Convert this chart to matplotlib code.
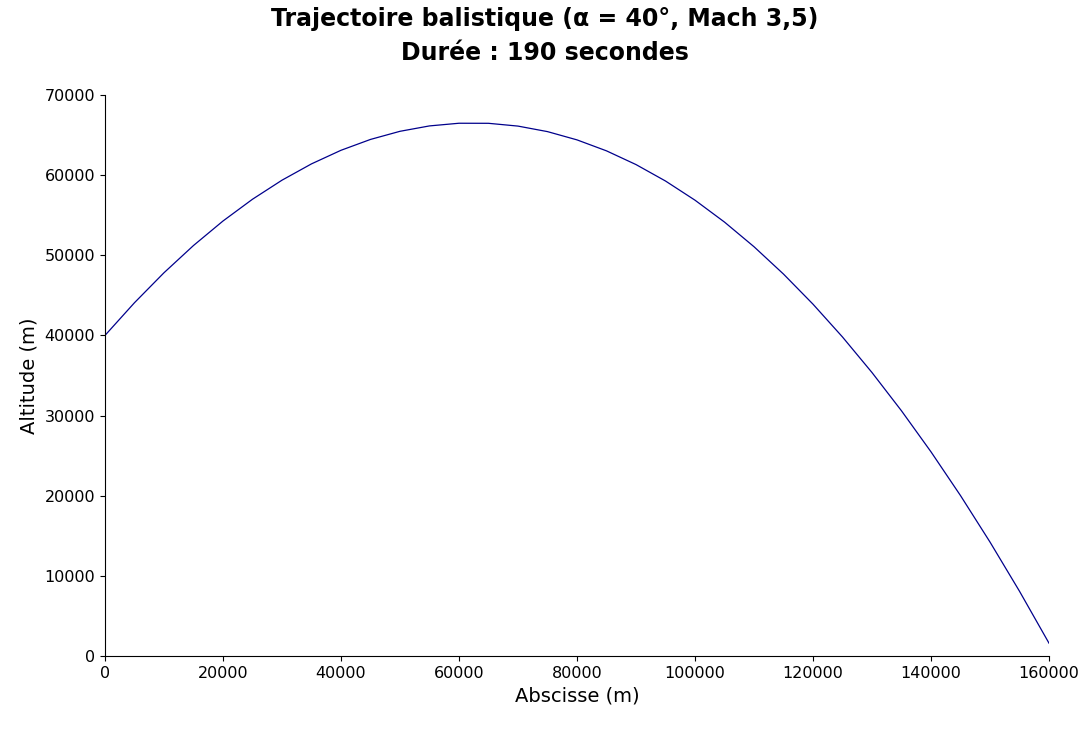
import matplotlib
matplotlib.use("Agg")
import matplotlib.pyplot as plt

# abscisse (m) et altitude (m)
abscisse = [0, 5000, 10000, 15000, 20000, 25000, 30000, 35000, 40000, 45000,
            50000, 55000, 60000, 65000, 70000, 75000, 80000, 85000, 90000,
            95000, 100000, 105000, 110000, 115000, 120000, 125000, 130000,
            135000, 140000, 145000, 150000, 155000, 160000]
altitude = [40000, 44080, 47819, 51217, 54275, 56992, 59369, 61405, 63100, 64455,
            65469, 66142, 66475, 66467, 66119, 65430, 64400, 63030, 61319,
            59267, 56875, 54142, 51069, 47655, 43900, 39805, 35369,
            30592, 25475, 20017, 14219, 8080, 1600]

fig = plt.figure(figsize=(10.9, 7.29), dpi=100)
ax = fig.add_axes([0.0963, 0.1001, 0.8661, 0.7696])
ax.plot(abscisse, altitude, color="#00008b", lw=0.9)
ax.set_xlim(0, 160000)
ax.set_ylim(0, 70000)
ax.set_xticks(range(0, 160001, 20000))
ax.set_yticks(range(0, 70001, 10000))
ax.spines["top"].set_visible(False)
ax.spines["right"].set_visible(False)
ax.tick_params(labelsize=11.5)
ax.set_xlabel("Abscisse (m)", fontsize=14)
ax.set_ylabel("Altitude (m)", fontsize=14)
fig.suptitle("Trajectoire balistique (α = 40°, Mach 3,5)\nDurée : 190 secondes",
             fontsize=17, fontweight="bold", y=0.99, linespacing=1.5)
fig.savefig("out.png", dpi=100)
